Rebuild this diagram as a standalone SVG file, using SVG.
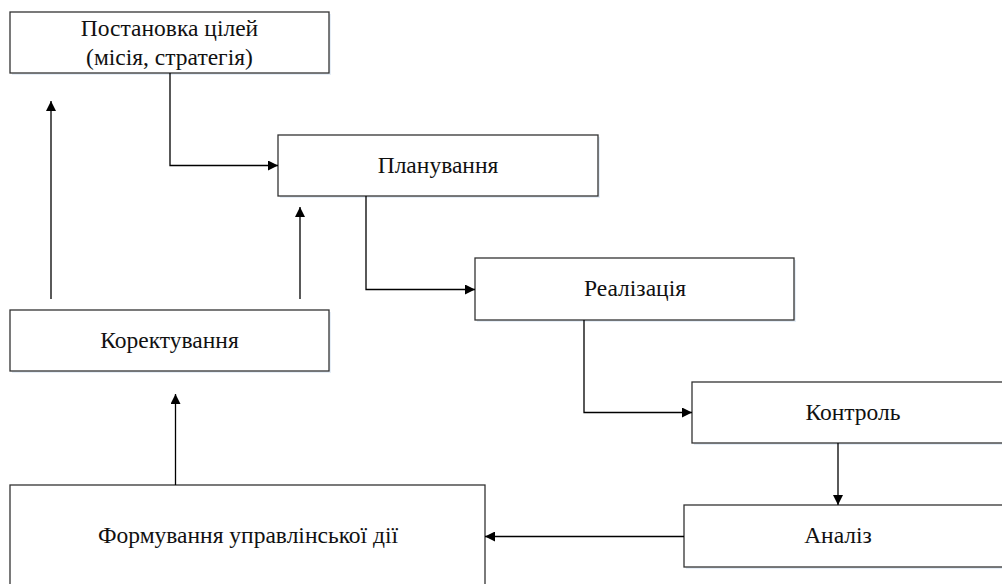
<svg xmlns="http://www.w3.org/2000/svg" width="1002" height="584" viewBox="0 0 1002 584">
<style>
.box{fill:#fff;stroke:#333;stroke-width:1.3}
.shadow{fill:#e6eef7}
.t{font-family:"Liberation Serif","Times New Roman",serif;font-size:23.5px;fill:#111;text-anchor:middle}
.c{fill:none;stroke:#000;stroke-width:1.3}
</style>
<defs>
<marker id="ah" viewBox="0 0 10 10" refX="10" refY="5" markerWidth="10" markerHeight="10" markerUnits="userSpaceOnUse" orient="auto">
<path d="M0,0 L10,5 L0,10 z" fill="#000"/>
</marker>
</defs>
<rect width="1002" height="584" fill="#fff"/>
<g id="n1"><rect class="shadow" x="12" y="14" width="319" height="61"/><rect class="box" x="10" y="12" width="319" height="61"/><text class="t" x="169.5" y="36">Постановка цілей</text><text class="t" x="169.5" y="65">(місія, стратегія)</text></g>
<g id="n2"><rect class="shadow" x="280" y="137" width="320" height="61"/><rect class="box" x="278" y="135" width="320" height="61"/><text class="t" x="438" y="173">Планування</text></g>
<g id="n3"><rect class="shadow" x="477" y="260" width="319" height="62"/><rect class="box" x="475" y="258" width="319" height="62"/><text class="t" x="635" y="296">Реалізація</text></g>
<g id="n4"><rect class="shadow" x="694" y="384" width="320" height="61"/><rect class="box" x="692" y="382" width="320" height="61"/><text class="t" x="853" y="420">Контроль</text></g>
<g id="n5"><rect class="shadow" x="686" y="507" width="320" height="62"/><rect class="box" x="684" y="505" width="320" height="62"/><text class="t" x="838" y="543">Аналіз</text></g>
<g id="n6"><rect class="box" x="10" y="485" width="475" height="110"/><text class="t" x="248" y="543">Формування управлінської дії</text></g>
<g id="n7"><rect class="shadow" x="12" y="312" width="319" height="61"/><rect class="box" x="10" y="310" width="319" height="61"/><text class="t" x="169.5" y="348">Коректування</text></g>
<g id="connectors">
<path class="c" d="M170,73 V165.5 H278" marker-end="url(#ah)"/>
<path class="c" d="M366,196 V289.5 H475" marker-end="url(#ah)"/>
<path class="c" d="M584,320 V412.5 H692" marker-end="url(#ah)"/>
<path class="c" d="M838,443 V505" marker-end="url(#ah)"/>
<path class="c" d="M684,536.5 H485" marker-end="url(#ah)"/>
<path class="c" d="M175.5,485 V394" marker-end="url(#ah)"/>
<path class="c" d="M51,299 V101" marker-end="url(#ah)"/>
<path class="c" d="M300,299 V207" marker-end="url(#ah)"/>
</g>
</svg>
